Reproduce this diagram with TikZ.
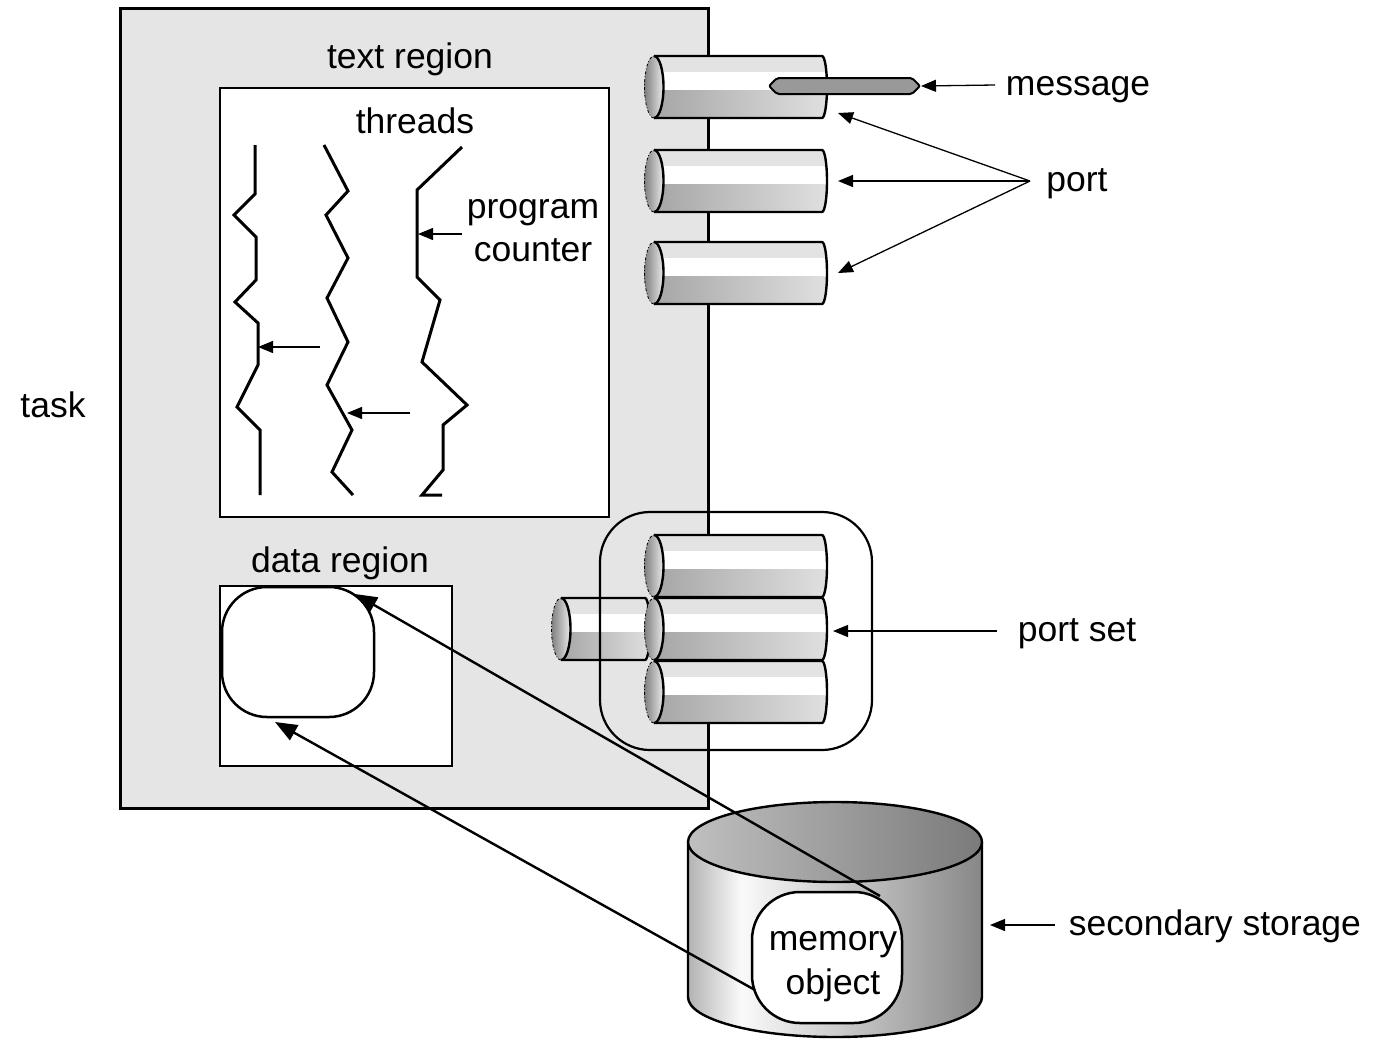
\documentclass[tikz,border=0pt]{standalone}
\usepackage{fontspec}
\setmainfont{Liberation Sans}
\usetikzlibrary{arrows.meta}

\tikzset{
  lbl/.style={font=\fontsize{35.5}{40}\selectfont, inner sep=0pt, anchor=base},
  cyl/.style={line width=2.4pt, line join=round},
  thread/.style={line width=3pt, line join=miter},
  ptr/.style={line width=1.3pt, -{Triangle[length=15pt,width=12pt]}},
  maparrow/.style={line width=2.4pt, -{Triangle[length=22pt,width=17pt]}},
  frame/.style={draw, inner sep=0pt, line width=2.5pt},
}

% horizontal port cylinder: #1 name, #2 x of left end centre, #3 y centre, #4 length
\newcommand\portcyl[4]{%
  \begin{scope}
    \clip (#2,#3-31) -- (#2+#4,#3-31)
      arc[start angle=-90,end angle=90,x radius=5,y radius=31] -- (#2,#3+31) -- cycle;
    \fill[black!11] (#2,#3-33) rectangle (#2+#4+7,#3-15);
    \fill[white] (#2,#3-15) rectangle (#2+#4+7,#3+3);
    \shade[left color=black!35,right color=black!12] (#2,#3+3) rectangle (#2+#4+7,#3+33);
  \end{scope}
  \draw[cyl] (#2,#3-31) -- (#2+#4,#3-31)
    arc[start angle=-90,end angle=90,x radius=5,y radius=31] -- (#2,#3+31);
  \shade[left color=black!50,right color=black!8] (#2,#3) ellipse[x radius=9.5,y radius=31];
  \draw[cyl] (#2,#3-31) arc[start angle=-90,end angle=90,x radius=9.5,y radius=31];
  \draw[line width=0.8pt,dash dot] (#2,#3+31) arc[start angle=90,end angle=270,x radius=9.5,y radius=31];
  \coordinate (#1) at (#2+#4+5,#3);
}

\begin{document}
\begin{tikzpicture}[x=1pt,y=-1pt]
\useasboundingbox (0,0) rectangle (1374,1045);

% task
\node[frame, fill=black!10, line width=3pt, minimum width=588pt, minimum height=800pt] (task) at (414,408) {};
\node[lbl] (tasklbl) at (53,417) {task};
\node[lbl] (textreg) at (410,68) {text region};

% text region with threads
\node[frame, fill=white, minimum width=389pt, minimum height=429pt] (threadsbox) at (414.5,302.5) {};
\node[lbl] (threadslbl) at (415,133) {threads};
\draw[thread] (255,145) -- (255,194) -- (234,215) -- (256,237) -- (256,280) -- (235,302)
  -- (258,323) -- (258,365) -- (237,407) -- (260,430) -- (260,495);
\draw[thread] (324,145) -- (348,191) -- (326,215) -- (348,258) -- (327,298) -- (348,342)
  -- (327,385) -- (352,430) -- (332,472) -- (353,495);
\draw[thread] (462,147) -- (417,190) -- (417,277) -- (440,300) -- (422,362) -- (467,405)
  -- (443,425) -- (443,470) -- (422,495) -- (442,495);

\node[lbl] (prog) at (533,218) {program};
\node[lbl] (count) at (533,261) {counter};
\coordinate (pcA) at (462,234);  \coordinate (pcAtip) at (418,234);
\coordinate (pcB) at (320,347);  \coordinate (pcBtip) at (258,347);
\coordinate (pcC) at (410,413);  \coordinate (pcCtip) at (347,413);
\draw[ptr] (pcA) -- (pcAtip);
\draw[ptr] (pcB) -- (pcBtip);
\draw[ptr] (pcC) -- (pcCtip);

% data region
\node[lbl] (datalbl) at (340,572) {data region};
\node[frame, fill=white, minimum width=232pt, minimum height=180pt] (databox) at (336,676) {};
\node[frame, fill=white, rounded corners=45pt, minimum width=152pt, minimum height=130pt] (region) at (298,652) {};

% ports
\portcyl{portA}{654}{87}{168}
\portcyl{portB}{654}{181}{168}
\portcyl{portC}{654}{273}{168}

% message
\draw[line width=2pt, fill=black!40, rounded corners=2pt] (769,86) -- (777,78) -- (912,78)
  -- (920,86) -- (912,94) -- (777,94) -- cycle;
\coordinate (msgtip) at (921,86);
\node[lbl] (msg) at (1078,95) {message};
\coordinate (msgfrom) at (995,85);
\draw[ptr] (msgfrom) -- (msgtip);

\node[lbl] (portlbl) at (1077,191) {port};
\coordinate (pfork) at (1030,181);
\coordinate (ptA) at (838,113);
\coordinate (ptB) at (838,181);
\coordinate (ptC) at (838,273);
\draw[ptr] (pfork) -- (ptA);
\draw[ptr] (pfork) -- (ptB);
\draw[ptr] (pfork) -- (ptC);

% port set
\portcyl{sideport}{561}{629}{84}
\portcyl{setA}{654}{566}{168}
\portcyl{setB}{654}{629}{168}
\portcyl{setC}{654}{692}{168}
\node[draw, line width=2.2pt, rounded corners=50pt, minimum width=272pt, minimum height=238pt, inner sep=0pt] (pset) at (736,631) {};
\node[lbl] (psetlbl) at (1077,641) {port set};
\coordinate (psfrom) at (997,631);
\coordinate (pstip) at (833,631);
\draw[ptr] (psfrom) -- (pstip);

% secondary storage
\pgfdeclarehorizontalshading{diskside}{100bp}{color(0bp)=(black!30); color(25bp)=(black!30);
  color(34bp)=(black!2); color(75bp)=(black!47); color(100bp)=(black!47)}
\shade[shading=diskside] (688,842) -- (688,997) arc[start angle=180,end angle=0,x radius=147,y radius=40]
  -- (982,842) -- cycle;
\draw[line width=2.4pt] (688,842) -- (688,997) arc[start angle=180,end angle=0,x radius=147,y radius=40]
  -- (982,842);
\shade[left color=black!25, right color=black!52, line width=2.4pt] (835,842) ellipse[x radius=147,y radius=40];
\draw[line width=2.4pt] (835,842) ellipse[x radius=147,y radius=40];
\coordinate (diskright) at (990,925);
\node[lbl] (storlbl) at (1215,935) {secondary storage};
\coordinate (storfrom) at (1055,925);
\draw[ptr] (storfrom) -- (diskright);

% memory object
\node[frame, fill=white, rounded corners=48pt, minimum width=150pt, minimum height=131pt] (memobj) at (827,957.5) {};
\node[lbl] (memlbl) at (833,950) {memory};
\node[lbl] (objlbl) at (833,994) {object};
\coordinate (mapA) at (880,896);  \coordinate (mapAtip) at (355,594);
\coordinate (mapB) at (755,990);  \coordinate (mapBtip) at (275,722);
\draw[maparrow] (mapA) -- (mapAtip);
\draw[maparrow] (mapB) -- (mapBtip);
\end{tikzpicture}
\end{document}
